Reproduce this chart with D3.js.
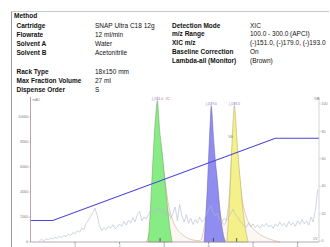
<!DOCTYPE html>
<html>
<head>
<meta charset="utf-8">
<script src="https://cdn.jsdelivr.net/npm/d3@7"></script>
<style>
  body { margin: 0; background: #fff; }
  svg { display: block; font-family: "Liberation Sans", Arial, sans-serif; }
</style>
</head>
<body>
<svg id="canvas"></svg>
<script>
// method table
var leftLabels = ['Cartridge', 'Flowrate', 'Solvent A', 'Solvent B'];
var leftValues = ['SNAP Ultra C18 12g', '12 ml/min', 'Water', 'Acetonitrile'];
var rackLabels = ['Rack Type', 'Max Fraction Volume', 'Dispense Order'];
var rackValues = ['18x150 mm', '27 ml', 'S'];
var rightLabels = ['Detection Mode', 'm/z Range', 'XIC m/z', 'Baseline Correction', 'Lambda-all (Monitor)'];
var rightValues = ['XIC', '100.0 - 300.0 (APCI)', '(-)151.0, (-)179.0, (-)193.0', 'On', '(Brown)'];

// axis ticks
var xTicks = [1, 2, 3, 4, 5, 6];
var yTicks = [0, 2000, 4000, 6000, 8000, 10000];
var bTicks = [0, 20, 40, 60, 80, 100];

// gradient (%B)
var gradTime = [0, 0.5, 5.5, 6.48];
var gradB = [15, 15, 75, 75];

// XIC peaks
var greenT = [2.64, 2.68, 2.72, 2.76, 2.80, 2.83, 2.85, 2.87, 2.90, 2.95, 3.00, 3.06, 3.12, 3.18];
var greenV = [0, 1800, 4500, 7200, 9600, 10800, 11300, 10600, 9000, 7400, 5600, 3400, 1400, 0];
var blueT = [3.90, 3.94, 3.98, 4.01, 4.04, 4.06, 4.08, 4.11, 4.15, 4.20, 4.26, 4.32, 4.38];
var blueV = [0, 2200, 5000, 7600, 9800, 10900, 10200, 8400, 6600, 4800, 2400, 800, 0];
var yellowT = [4.41, 4.45, 4.49, 4.52, 4.55, 4.58, 4.60, 4.63, 4.67, 4.72, 4.77, 4.83, 4.89];
var yellowV = [0, 2000, 4800, 7400, 9600, 10900, 10300, 8600, 6600, 4600, 2600, 1000, 0];
var peakLabels = ['(-)151.0', '(-)179.0', '(-)193.0'];
var fractionMarks = [2.91, 4.11, 4.63];

// lambda-all monitor (brown)
var brownT = [2.60, 2.70, 2.80, 2.90, 3.00, 3.10, 3.20, 3.30, 3.45, 3.60, 3.80, 3.95, 4.05, 4.15, 4.25, 4.35, 4.45, 4.55, 4.65, 4.75, 4.85, 4.95, 5.05, 5.20, 5.40, 5.60];
var brownV = [0, 1500, 6000, 8000, 5500, 3000, 1700, 1000, 500, 200, 100, 2500, 7500, 6000, 2500, 1400, 3000, 7800, 6500, 3500, 2000, 1300, 900, 500, 200, 0];

// noisy trace, one value every 0.05 from 0.20
var noiseStart = 0.20, noiseStep = 0.05;
var noiseV = [120, 200, 90, 260, 180, 320, 240, 380, 300, 460, 350, 520, 430, 640, 520, 760, 640, 900, 780, 1100, 1000, 1500, 1750, 2050, 2350, 2700,
    2100, 1300, 900, 1150, 980, 1250, 1100, 1380, 1050, 1200, 1450, 1250, 1650, 1350, 1750, 1500, 1950, 1600, 2200, 2450, 1700, 2000, 1850,
    2200, 2600, 2300, 2800, 2500, 2700, 2300, 2600, 2100, 2400, 1900, 2300,
    2800, 1700, 3000, 2100, 1600, 2200, 1500, 1900, 1400, 1800, 1500, 2000, 1600,
    1800, 2200, 2600, 2900, 2400, 2100, 2300, 1800, 1600, 1900, 1700, 2000, 2300, 2600, 2200, 2000, 1700, 1500, 1300, 1200,
    1500, 1200, 1450, 1150, 1350, 1100, 1400, 1250, 1500, 1200, 1350, 1100, 1450, 1250, 1600, 1300, 1500, 1200, 1650, 1350, 1550, 1250, 1700, 1400, 1800, 1450, 1700, 1350, 2000, 1600, 2600, 4200];

var width = 330, height = 247;
var svg = d3.select('#canvas')
    .attr('width', width)
    .attr('height', height);

// frame
svg.append('line').attr('x1', 11.5).attr('x2', 329).attr('y1', 11.5).attr('y2', 11.5)
    .attr('stroke', '#c8c8c8').attr('stroke-width', 1);
svg.append('line').attr('x1', 11.5).attr('x2', 11.5).attr('y1', 11.5).attr('y2', height)
    .attr('stroke', '#9a9a9a').attr('stroke-width', 1);

// header text
var fs = 6.5;
function row(x, y, txt, bold) {
    svg.append('text')
        .attr('x', x).attr('y', y)
        .attr('font-size', fs)
        .attr('font-weight', bold ? 'bold' : 'normal')
        .attr('fill', '#111')
        .text(txt);
}
row(14, 18, 'Method', true);
leftLabels.forEach(function (d, i) {
    row(16.5, 28 + i * 8.9, d, true);
    row(95, 28 + i * 8.9, leftValues[i], false);
});
rackLabels.forEach(function (d, i) {
    row(16.5, 74 + i * 8.9, d, true);
    row(95, 74 + i * 8.9, rackValues[i], false);
});
rightLabels.forEach(function (d, i) {
    row(172, 27.5 + i * 8.9, d, true);
    row(250, 27.5 + i * 8.9, rightValues[i], false);
});

// scales
var xScale = d3.scaleLinear().domain([0, 6.48]).range([30.5, 319]);
var yScale = d3.scaleLinear().domain([0, 11600]).range([242, 97]);
var bScale = d3.scaleLinear().domain([0, 100]).range([241, 104]);

var area = d3.area()
    .x(function (d) { return xScale(d[0]); })
    .y0(yScale(0))
    .y1(function (d) { return yScale(d[1]); })
    .curve(d3.curveMonotoneX);
var line = d3.line()
    .x(function (d) { return xScale(d[0]); })
    .y(function (d) { return yScale(d[1]); })
    .curve(d3.curveMonotoneX);

// brown monitor trace
var brownData = d3.zip(brownT, brownV);
svg.append('path').datum(brownData)
    .attr('d', area).attr('fill', '#f6eee2').attr('opacity', 0.45);
svg.append('path').datum(brownData)
    .attr('d', line).attr('fill', 'none').attr('stroke', '#cfae88').attr('stroke-width', 0.6);

// peaks
var peaks = [
    { data: d3.zip(greenT, greenV), fill: '#88ec84', stroke: '#6a9a62' },
    { data: d3.zip(blueT, blueV), fill: '#8f8df0', stroke: '#6a62a8' },
    { data: d3.zip(yellowT, yellowV), fill: '#f4f08a', stroke: '#b0a060' }
];
peaks.forEach(function (p, i) {
    svg.append('path').datum(p.data)
        .attr('d', area)
        .attr('fill', p.fill)
        .attr('stroke', p.stroke)
        .attr('stroke-width', 0.5);
    var top = p.data.reduce(function (a, b) { return b[1] > a[1] ? b : a; });
    svg.append('line')
        .attr('x1', xScale(top[0])).attr('x2', xScale(top[0]))
        .attr('y1', yScale(top[1]) - 4).attr('y2', yScale(top[1]) + 2)
        .attr('stroke', '#d9a0b0').attr('stroke-width', 0.5);
    svg.append('text')
        .attr('x', xScale(top[0])).attr('y', yScale(top[1]) - 1)
        .attr('text-anchor', 'middle')
        .attr('font-size', 3.2)
        .attr('fill', '#8a70c8')
        .text(peakLabels[i]);
});
svg.append('text')
    .attr('x', xScale(greenT[6]) + 8).attr('y', yScale(greenV[6]) - 1)
    .attr('font-size', 3.2).attr('fill', '#d04040').text('#C');

// noisy light trace
var noiseData = noiseV.map(function (v, i) { return [noiseStart + i * noiseStep, v]; });
svg.append('path').datum(noiseData)
    .attr('d', d3.line()
        .x(function (d) { return xScale(d[0]); })
        .y(function (d) { return yScale(d[1]); }))
    .attr('fill', 'none')
    .attr('stroke', '#aebad0')
    .attr('stroke-width', 0.6);

// fraction markers
svg.selectAll('.mark').data(fractionMarks).enter().append('line')
    .attr('x1', function (d) { return xScale(d); })
    .attr('x2', function (d) { return xScale(d); })
    .attr('y1', 238).attr('y2', 242)
    .attr('stroke', '#333').attr('stroke-width', 0.8);

// gradient line
svg.append('path').datum(d3.zip(gradTime, gradB))
    .attr('d', d3.line()
        .x(function (d) { return xScale(d[0]); })
        .y(function (d) { return bScale(d[1]); }))
    .attr('fill', 'none')
    .attr('stroke', '#4a48d8')
    .attr('stroke-width', 1.1);
svg.append('text').attr('x', 228).attr('y', 138)
    .attr('font-size', 3).attr('fill', '#777').text('%B');

// left axis
var axisCol = '#a88f9e';
svg.append('line').attr('x1', 30.5).attr('x2', 30.5).attr('y1', 97).attr('y2', 242)
    .attr('stroke', axisCol).attr('stroke-width', 0.8);
svg.selectAll('.yt').data(yTicks).enter().append('line')
    .attr('x1', 28.5).attr('x2', 30.5)
    .attr('y1', function (d) { return yScale(d); })
    .attr('y2', function (d) { return yScale(d); })
    .attr('stroke', axisCol).attr('stroke-width', 0.5);
svg.selectAll('.yl').data(yTicks).enter().append('text')
    .attr('x', 28).attr('y', function (d) { return yScale(d) + 1.2; })
    .attr('text-anchor', 'end')
    .attr('font-size', 3.5).attr('fill', '#777')
    .text(function (d) { return d; });
svg.append('text').attr('x', 32.5).attr('y', 101)
    .attr('font-size', 3.2).attr('fill', '#777').text('mAU');

// bottom axis
svg.append('line').attr('x1', 30.5).attr('x2', 319).attr('y1', 242).attr('y2', 242)
    .attr('stroke', axisCol).attr('stroke-width', 0.8);
svg.selectAll('.xt').data(xTicks).enter().append('line')
    .attr('x1', function (d) { return xScale(d); })
    .attr('x2', function (d) { return xScale(d); })
    .attr('y1', 242).attr('y2', 244)
    .attr('stroke', '#555').attr('stroke-width', 0.5);
svg.selectAll('.xl').data(xTicks).enter().append('text')
    .attr('x', function (d) { return xScale(d); })
    .attr('y', 246.8)
    .attr('text-anchor', 'middle')
    .attr('font-size', 3)
    .attr('fill', '#666')
    .text(function (d) { return d; });
svg.append('text').attr('x', 313).attr('y', 240)
    .attr('font-size', 3.2).attr('fill', '#777').text('CV');

// right axis (%B)
svg.append('line').attr('x1', 319).attr('x2', 319).attr('y1', 97).attr('y2', 242)
    .attr('stroke', '#bbb').attr('stroke-width', 0.6);
svg.selectAll('.bt').data(bTicks).enter().append('line')
    .attr('x1', 319).attr('x2', 321)
    .attr('y1', function (d) { return bScale(d); })
    .attr('y2', function (d) { return bScale(d); })
    .attr('stroke', '#bbb').attr('stroke-width', 0.5);
svg.selectAll('.bl').data(bTicks).enter().append('text')
    .attr('x', 321.5).attr('y', function (d) { return bScale(d) + 1.2; })
    .attr('font-size', 3.5).attr('fill', '#777')
    .text(function (d) { return d; });
svg.append('text').attr('x', 314).attr('y', 99.5)
    .attr('font-size', 3.5).attr('fill', '#777').text('%B');
</script>
</body>
</html>
